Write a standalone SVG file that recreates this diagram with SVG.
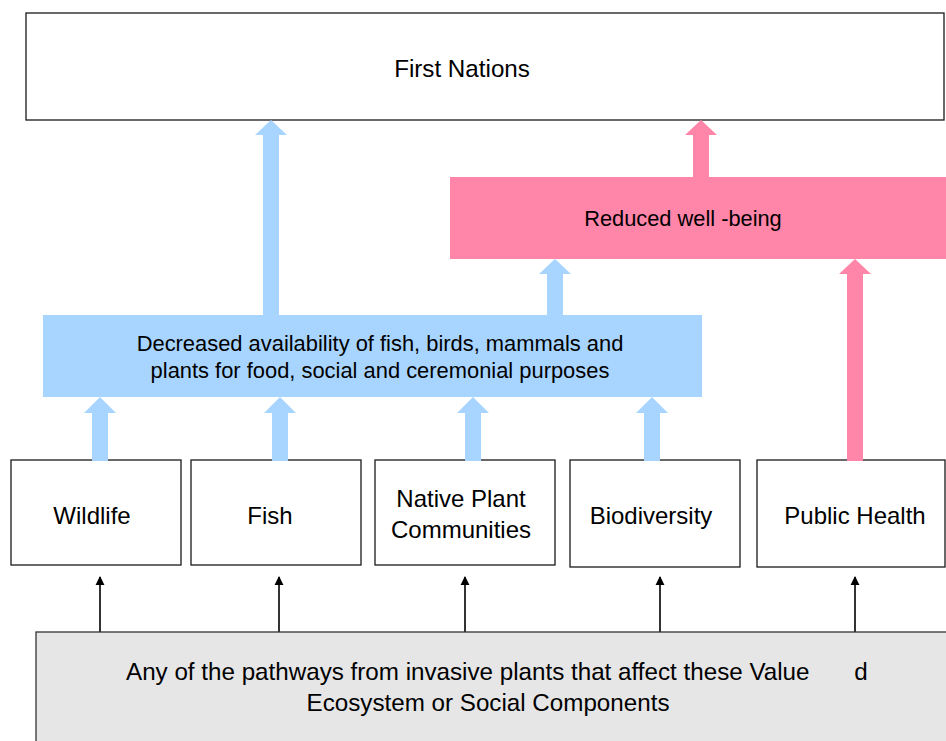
<svg xmlns="http://www.w3.org/2000/svg" width="946" height="741" viewBox="0 0 946 741">
<style>
.box{fill:#fff;stroke:#1a1a1a;stroke-width:1.3}
.t{font-family:"Liberation Sans",Arial,sans-serif;fill:#000;text-anchor:middle}
.blue{fill:#A8D5FF}
.pink{fill:#FF85A9}
.thin{stroke:#333;stroke-width:2;fill:none}
</style>
<defs>
<marker id="ah" viewBox="0 0 10 10" refX="9" refY="5" markerWidth="4.5" markerHeight="5" orient="auto" markerUnits="strokeWidth">
<path d="M0,0 L10,5 L0,10 z" fill="#000"/>
</marker>
</defs>
<rect width="946" height="741" fill="#fff"/>

<g id="first-nations">
<rect class="box" x="26" y="13" width="918" height="107"/>
<text class="t" x="462" y="77" font-size="24.2">First Nations</text>
</g>

<g id="reduced-wellbeing">
<rect class="pink" x="450" y="177" width="500" height="82"/>
<text class="t" x="683" y="226" font-size="21.8">Reduced well -being</text>
</g>

<g id="decreased-availability">
<rect class="blue" x="43" y="315" width="659" height="82"/>
<text class="t" x="380" y="351" font-size="21.9">Decreased availability of fish, birds, mammals and</text>
<text class="t" x="380" y="378" font-size="21.9">plants for food, social and ceremonial purposes</text>
</g>

<g id="wildlife">
<rect class="box" x="11" y="460" width="170" height="105"/>
<text class="t" x="92" y="524" font-size="24">Wildlife</text>
</g>
<g id="fish">
<rect class="box" x="191" y="460" width="170" height="105"/>
<text class="t" x="270" y="524" font-size="24">Fish</text>
</g>
<g id="native-plant">
<rect class="box" x="375" y="460" width="180" height="105"/>
<text class="t" x="461" y="507" font-size="24">Native Plant</text>
<text class="t" x="461" y="538" font-size="24">Communities</text>
</g>
<g id="biodiversity">
<rect class="box" x="570" y="460" width="170" height="107"/>
<text class="t" x="651" y="524" font-size="24">Biodiversity</text>
</g>
<g id="public-health">
<rect class="box" x="757" y="460" width="188" height="107"/>
<text class="t" x="855" y="524" font-size="24">Public Health</text>
</g>

<g id="pathways">
<rect x="36" y="632" width="920" height="120" fill="#E6E6E6" stroke="#333" stroke-width="1.3"/>
<text class="t" font-size="24.2" y="680"><tspan x="126" text-anchor="start">Any of the pathways from invasive plants that affect these Value</tspan><tspan x="861">d</tspan></text>
<text class="t" x="488" y="711" font-size="24.2">Ecosystem or Social Components</text>
</g>

<g id="connectors">
<polygon class="blue" points="263,315 263,135 255,135 271,120 287,135 279,135 279,315"/>
<polygon class="blue" points="547,315 547,274 539,274 555,259 571,274 563,274 563,315"/>
<polygon class="blue" points="92,461 92,413 84,413 100,397 116,413 108,413 108,461"/>
<polygon class="blue" points="272,461 272,413 264,413 280,397 296,413 288,413 288,461"/>
<polygon class="blue" points="465,461 465,413 457,413 473,397 489,413 481,413 481,461"/>
<polygon class="blue" points="644,461 644,413 636,413 652,397 668,413 660,413 660,461"/>
<polygon class="pink" points="693,177 693,135 685,135 701,120 717,135 709,135 709,177"/>
<polygon class="pink" points="847,461 847,274 839,274 855,259 871,274 863,274 863,461"/>
<line class="thin" x1="100" y1="632" x2="100" y2="577" marker-end="url(#ah)"/>
<line class="thin" x1="279" y1="632" x2="279" y2="577" marker-end="url(#ah)"/>
<line class="thin" x1="465" y1="632" x2="465" y2="577" marker-end="url(#ah)"/>
<line class="thin" x1="660" y1="632" x2="660" y2="577" marker-end="url(#ah)"/>
<line class="thin" x1="855" y1="632" x2="855" y2="577" marker-end="url(#ah)"/>
</g>
</svg>
